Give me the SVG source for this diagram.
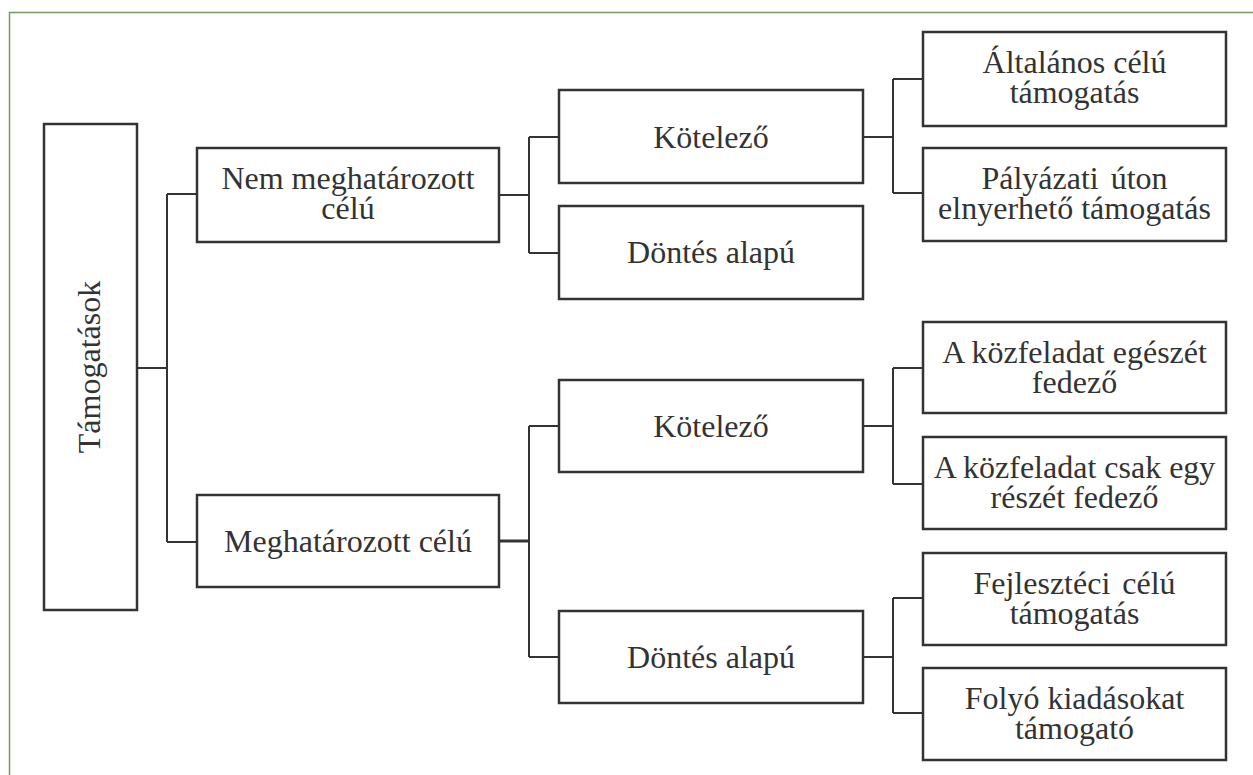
<svg xmlns="http://www.w3.org/2000/svg" width="1253" height="775" viewBox="0 0 1253 775">
<style>
.bg{fill:#ffffff}
.frame{fill:none;stroke:#789868;stroke-width:1.5}
.box{fill:#ffffff;stroke:#333333;stroke-width:2.5}
.t{font-family:"Liberation Serif","Times New Roman",serif;font-size:32px;fill:#333333;text-anchor:middle}
.ws{word-spacing:4px}
.c{fill:none;stroke:#333333;stroke-width:2}
</style>
<rect class="bg" x="0" y="0" width="1253" height="775"/>
<path class="frame" d="M9.5,780 V12.5 H1260"/>
<g id="connectors">
<path class="c" d="M137,368 H167 M167,194 V542 M167,194 H197 M167,542 H197"/>
<path class="c" d="M499,195 H529 M529,137 V253 M529,137 H559 M529,253 H559"/>
<path class="c" d="M499,541 H529" style="stroke-width:3"/>
<path class="c" d="M529,426 V657 M529,426 H559 M529,657 H559"/>
<path class="c" d="M863,137 H893 M893,79 V193 M893,79 H923 M893,193 H923"/>
<path class="c" d="M863,426 H893 M893,368 V484 M893,368 H923 M893,484 H923"/>
<path class="c" d="M863,657 H893 M893,598 V713 M893,598 H923 M893,713 H923"/>
</g>
<g id="root"><rect class="box" x="44" y="124" width="93" height="486"/><text class="t" transform="translate(100,367) rotate(-90)">Támogatások</text></g>
<g id="nem"><rect class="box" x="197" y="148" width="302" height="94"/><text class="t" x="348" y="189">Nem meghatározott<tspan x="348" dy="30">célú</tspan></text></g>
<g id="megh"><rect class="box" x="197" y="495" width="302" height="92"/><text class="t" x="348" y="552">Meghatározott célú</text></g>
<g id="kot1"><rect class="box" x="559" y="90" width="304" height="93"/><text class="t" x="711" y="148">Kötelező</text></g>
<g id="dont1"><rect class="box" x="559" y="206" width="304" height="93"/><text class="t" x="711" y="263">Döntés alapú</text></g>
<g id="kot2"><rect class="box" x="559" y="380" width="304" height="92"/><text class="t" x="711" y="437">Kötelező</text></g>
<g id="dont2"><rect class="box" x="559" y="611" width="304" height="92"/><text class="t" x="711" y="668">Döntés alapú</text></g>
<g id="leaf1"><rect class="box" x="923" y="32" width="303" height="94"/><text class="t" x="1074.5" y="73">Általános célú<tspan x="1074.5" dy="30">támogatás</tspan></text></g>
<g id="leaf2"><rect class="box" x="923" y="148" width="303" height="93"/><text class="t" x="1074.5" y="189"><tspan class="ws">Pályázati úton</tspan><tspan x="1074.5" dy="30">elnyerhető támogatás</tspan></text></g>
<g id="leaf3"><rect class="box" x="923" y="322" width="303" height="91"/><text class="t" x="1074.5" y="363">A közfeladat egészét<tspan x="1074.5" dy="30">fedező</tspan></text></g>
<g id="leaf4"><rect class="box" x="923" y="437" width="303" height="92"/><text class="t" x="1074.5" y="478">A közfeladat csak egy<tspan x="1074.5" dy="30">részét fedező</tspan></text></g>
<g id="leaf5"><rect class="box" x="923" y="553" width="303" height="92"/><text class="t" x="1074.5" y="594"><tspan class="ws">Fejlesztéci célú</tspan><tspan x="1074.5" dy="30">támogatás</tspan></text></g>
<g id="leaf6"><rect class="box" x="923" y="668" width="303" height="92"/><text class="t" x="1074.5" y="709">Folyó kiadásokat<tspan x="1074.5" dy="30">támogató</tspan></text></g>
</svg>
